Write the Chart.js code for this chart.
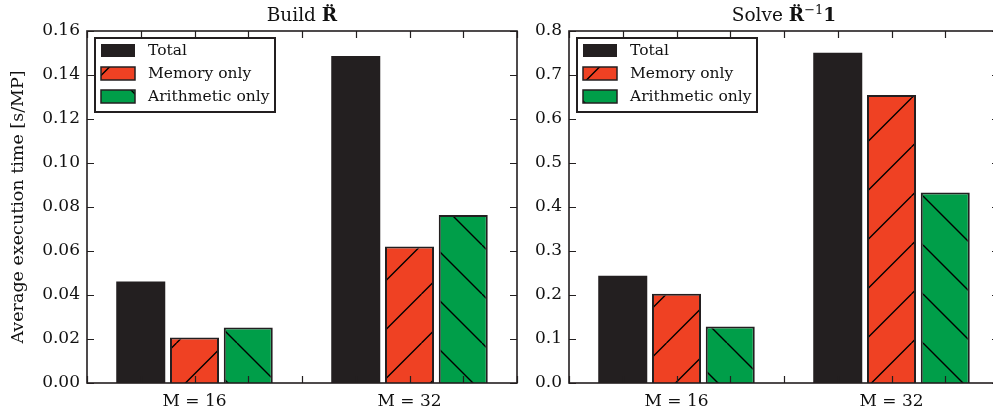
<!DOCTYPE html>
<html lang="en">
<head>
<meta charset="UTF-8">
<title>Build / Solve execution time</title>
<script src="https://cdn.jsdelivr.net/npm/chart.js@4"></script>
<style>
  body { margin: 0; width: 993px; height: 415px; overflow: hidden; background: #fff; position: relative; }
  .panel { position: absolute; top: 0; height: 415px; }
  #left-panel { left: 0; width: 525px; }
  #right-panel { left: 525px; width: 500px; }
</style>
</head>
<body>
<div class="panel" id="left-panel"><canvas id="build-chart"></canvas></div>
<div class="panel" id="right-panel"><canvas id="solve-chart"></canvas></div>
<script>
// data
const categories = ['M = 16', 'M = 32'];
const seriesNames = ['Total', 'Memory only', 'Arithmetic only'];

const buildTotal  = [0.0461, 0.1486];
const buildMemory = [0.0207, 0.0620];
const buildArith  = [0.0252, 0.0764];

const solveTotal  = [0.2437, 0.7507];
const solveMemory = [0.2028, 0.6547];
const solveArith  = [0.1286, 0.4329];

const buildYLabels = ['0.00', '0.02', '0.04', '0.06', '0.08', '0.10', '0.12', '0.14', '0.16'];
const solveYLabels = ['0.0', '0.1', '0.2', '0.3', '0.4', '0.5', '0.6', '0.7', '0.8'];

const DARK = '#231f20';
const RED = '#ef4123';
const GREEN = '#009e49';
const SERIF = '"DejaVu Serif", serif';

Chart.defaults.font.family = SERIF;
Chart.defaults.color = '#111';

// hatch pattern, lines every 49px; phase is given in page coords
function hatch(color, forward, phase, canvasLeft) {
    const P = 49;
    const c = document.createElement('canvas');
    c.width = P; c.height = P;
    const g = c.getContext('2d');
    g.fillStyle = color;
    g.fillRect(0, 0, P, P);
    g.strokeStyle = '#000';
    g.lineWidth = 1.4;
    const ph = (((phase - canvasLeft) % P) + P) % P;
    g.beginPath();
    for (let k = -1; k <= 2; k++) {
        const x0 = ph + k * P;
        if (forward) { g.moveTo(x0, 0); g.lineTo(x0 - P, P); }   // '/'
        else { g.moveTo(x0, 0); g.lineTo(x0 + P, P); }           // '\'
    }
    g.stroke();
    return g.createPattern(c, 'repeat');
}

// inside ticks on all four sides, frame, legend box and title
const panelPlugin = {
    id: 'panel',
    afterDatasetsDraw(chart, args, opts) {
        const { ctx, chartArea: a, scales: { x, y } } = chart;
        ctx.save();
        ctx.strokeStyle = DARK;
        ctx.lineWidth = 1.2;
        ctx.beginPath();
        x.ticks.forEach(t => {
            const px = Math.round(x.getPixelForValue(t.value)) + 0.5;
            ctx.moveTo(px, a.bottom); ctx.lineTo(px, a.bottom - 7);
            ctx.moveTo(px, a.top); ctx.lineTo(px, a.top + 7);
        });
        y.ticks.forEach(t => {
            const py = Math.round(y.getPixelForValue(t.value)) + 0.5;
            ctx.moveTo(a.left, py); ctx.lineTo(a.left + 7, py);
            ctx.moveTo(a.right, py); ctx.lineTo(a.right - 7, py);
        });
        ctx.stroke();
        ctx.lineWidth = 1.6;
        ctx.strokeRect(a.left, a.top, a.right - a.left, a.bottom - a.top);

        // legend
        const lx = a.left + 8, ly = a.top + 7;
        ctx.fillStyle = '#fff';
        ctx.fillRect(lx, ly, 180, 74);
        ctx.lineWidth = 2;
        ctx.strokeRect(lx, ly, 180, 74);
        ctx.font = '15.5px ' + SERIF;
        ctx.textBaseline = 'middle';
        chart.data.datasets.forEach((ds, i) => {
            const py = ly + 6 + i * 23;
            ctx.fillStyle = ds.backgroundColor;
            ctx.fillRect(lx + 6, py, 34, 13);
            if (ds.borderWidth) {
                ctx.lineWidth = 1.5;
                ctx.strokeStyle = ds.borderColor;
                ctx.strokeRect(lx + 6, py, 34, 13);
            }
            ctx.fillStyle = '#111';
            ctx.fillText(ds.label, lx + 53, py + 7);
        });

        // title, mixed fonts
        const parts = opts.parts || [];
        ctx.textBaseline = 'alphabetic';
        let total = 0;
        parts.forEach(p => { ctx.font = p.font; total += ctx.measureText(p.text).width; });
        let tx = (a.left + a.right) / 2 - total / 2;
        parts.forEach(p => {
            ctx.font = p.font;
            ctx.fillStyle = '#111';
            ctx.fillText(p.text, tx, 21 + (p.dy || 0));
            tx += ctx.measureText(p.text).width;
        });
        ctx.restore();
    }
};

function makeChart(id, canvasLeft, values, yLabels, yWidth, padRight, yTitle, parts) {
    const fills = [DARK, hatch(RED, true, 29.5, canvasLeft), hatch(GREEN, false, 41, canvasLeft)];
    return new Chart(document.getElementById(id), {
        type: 'bar',
        data: {
            datasets: seriesNames.map((name, i) => ({
                label: name,
                data: values[i].map((v, j) => ({ x: j + 1, y: v })),
                backgroundColor: fills[i],
                borderColor: DARK,
                borderWidth: i === 0 ? 0 : 2,
                borderSkipped: 'bottom',
                // the bar ruler uses the 0.25 tick spacing, hence > 1
                categoryPercentage: 3,
                barPercentage: 0.912
            }))
        },
        options: {
            responsive: true,
            maintainAspectRatio: false,
            animation: false,
            events: [],
            layout: { padding: { left: 0, right: padRight, top: 31, bottom: 0 } },
            plugins: {
                legend: { display: false },
                tooltip: { enabled: false },
                panel: { parts: parts }
            },
            scales: {
                x: {
                    type: 'linear',
                    min: 0.5,
                    max: 2.5,
                    offset: false,
                    grid: { display: false, drawTicks: false },
                    border: { display: false },
                    ticks: {
                        stepSize: 0.25,
                        autoSkip: false,
                        maxRotation: 0,
                        padding: 8,
                        font: { size: 17 },
                        callback: v => Number.isInteger(v) ? categories[v - 1] : ''
                    },
                    afterFit: s => { s.height = 32; }
                },
                y: {
                    min: 0,
                    max: parseFloat(yLabels[yLabels.length - 1]),
                    grid: { display: false, drawTicks: false },
                    border: { display: false },
                    afterBuildTicks: s => { s.ticks = yLabels.map(l => ({ value: parseFloat(l) })); },
                    ticks: {
                        padding: 7,
                        font: { size: 17 },
                        callback: (v, i) => yLabels[i]
                    },
                    title: {
                        display: !!yTitle,
                        text: yTitle,
                        font: { size: 17.5 },
                        padding: { top: 8, bottom: 0 }
                    },
                    afterFit: s => { s.width = yWidth; }
                }
            }
        },
        plugins: [panelPlugin]
    });
}

const regular = '18.5px ' + SERIF;
const bold = 'bold 18.5px ' + SERIF;

makeChart('build-chart', 0, [buildTotal, buildMemory, buildArith], buildYLabels, 87, 8,
    'Average execution time [s/MP]',
    [{ text: 'Build ', font: regular }, { text: 'R\u0308', font: bold }]);

makeChart('solve-chart', 525, [solveTotal, solveMemory, solveArith], solveYLabels, 44, 26,
    '',
    [{ text: 'Solve ', font: regular }, { text: 'R\u0308', font: bold },
     { text: '\u22121', font: '13px ' + SERIF, dy: -7 }, { text: '1', font: bold }]);
</script>
</body>
</html>
